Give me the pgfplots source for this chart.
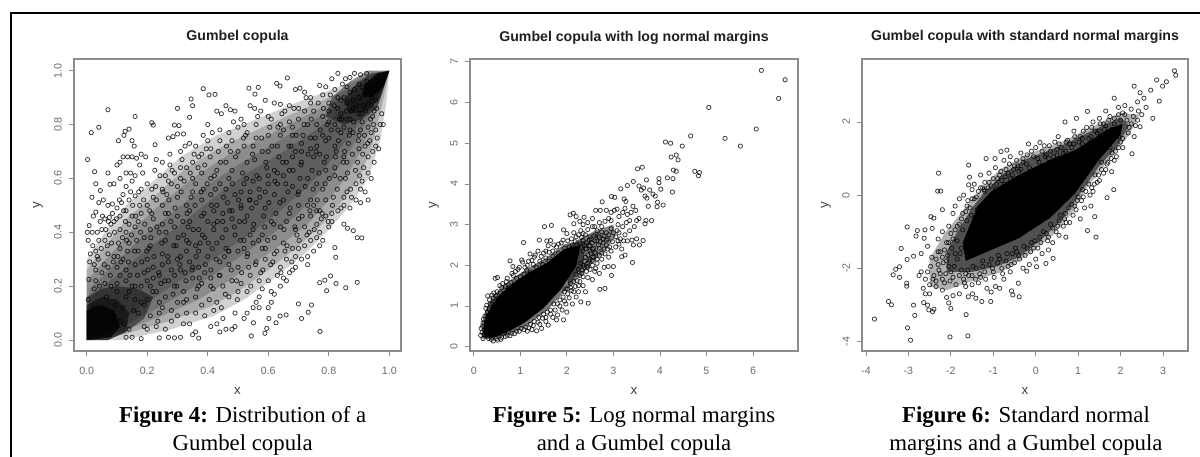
\documentclass[border=0pt]{standalone}
\usepackage{pgfplots}
\pgfplotsset{compat=1.18}
\usepackage{fontspec}
\setmainfont{Liberation Sans}
\newfontfamily\capfont{Liberation Serif}
\pgfplotsset{
 rp/.style={scale only axis,height=219pt,axis line style={color=black!45,line width=.9pt},
  tick style={color=black!45,line width=.6pt},tick align=outside,tick pos=left,major tick length=3.6pt,
  ticklabel style={font=\fontsize{8}{9}\selectfont,text=black!58},
  yticklabel style={rotate=90,anchor=south},
  xticklabel style={yshift=-14pt,anchor=base},
  yticklabel shift=2pt,
  title style={font=\bfseries\fontsize{10.6}{12}\selectfont,text=black!88,at={(axis description cs:.5,1)},anchor=base,yshift=7.5pt},
  xlabel style={font=\fontsize{10}{11}\selectfont,text=black!75,at={(axis description cs:.5,0)},anchor=base,yshift=-32.5pt},
  ylabel style={font=\fontsize{10}{11}\selectfont,text=black!75,at={(axis description cs:0,.5)},anchor=center,yshift=27pt},
  clip=true},
 pts/.style={only marks,mark=o,mark size=1.6pt,mark options={line width=.6pt,draw=black,draw opacity=.75}},
 blob/.style={draw=none,fill=black,fill opacity=#1,forget plot}
}
\begin{document}
\begin{tikzpicture}
\path[use as bounding box] (0,0) rectangle (900pt,342.75pt);
\draw[line width=1.8pt,black] (900pt,333pt)--(8.3pt,333pt)--(8.3pt,0pt);
%% Panel 1
\begin{axis}[rp,at={(55.5pt,79.5pt)},anchor=south west,width=245.25pt,
 xmin=-0.042,xmax=1.0387,ymin=-0.0408,ymax=1.0434,
 xtick={0,.2,.4,.6,.8,1},xticklabels={0.0,0.2,0.4,0.6,0.8,1.0},
 ytick={0,.2,.4,.6,.8,1},yticklabels={0.0,0.2,0.4,0.6,0.8,1.0},
 title={Gumbel copula},xlabel={x},ylabel={y}]
\addplot[blob=.18] coordinates {(0,0)(0,.3)(.06,.4)(.13,.5)(.21,.58)(.31,.68)(.43,.76)(.56,.82)(.69,.88)(.81,.93)(.93,.98)(1,1)(.99,.88)(.97,.74)(.93,.6)(.87,.5)(.8,.41)(.72,.32)(.62,.23)(.52,.15)(.42,.09)(.28,.04)(.12,0)} --cycle;
\addplot[blob=.18] coordinates {(0,0)(0,.26)(.07,.36)(.14,.46)(.23,.54)(.33,.64)(.45,.72)(.58,.79)(.7,.85)(.82,.91)(1,1)(.97,.84)(.94,.71)(.9,.6)(.84,.51)(.77,.42)(.69,.34)(.6,.26)(.5,.18)(.4,.12)(.27,.07)(.12,.02)} --cycle;
\addplot[blob=.18] coordinates {(0,0)(0,.22)(.08,.32)(.16,.42)(.25,.51)(.35,.6)(.47,.69)(.6,.76)(.72,.83)(.84,.9)(1,1)(.95,.83)(.91,.71)(.86,.61)(.8,.52)(.73,.43)(.65,.36)(.56,.29)(.47,.22)(.37,.15)(.25,.09)(.11,.03)} --cycle;
\addplot[blob=.18] coordinates {(0,0)(.01,.19)(.09,.28)(.18,.38)(.28,.47)(.38,.56)(.5,.65)(.62,.73)(.74,.81)(.86,.89)(1,1)(.93,.82)(.88,.72)(.82,.62)(.76,.54)(.69,.46)(.61,.39)(.52,.32)(.43,.25)(.33,.18)(.22,.11)(.1,.04)} --cycle;
\addplot[blob=.18] coordinates {(0,0)(.02,.17)(.1,.24)(.2,.34)(.3,.42)(.41,.52)(.53,.62)(.65,.7)(.77,.79)(.88,.88)(1,1)(.91,.82)(.85,.73)(.79,.64)(.72,.56)(.64,.48)(.56,.41)(.47,.34)(.38,.27)(.28,.2)(.19,.13)(.09,.05)} --cycle;
\addplot[blob=.45] coordinates {(0,0)(0,.16)(.05,.19)(.1,.2)(.17,.19)(.22,.16)(.19,.08)(.13,.03)(.07,0)} --cycle;
\addplot[blob=.5] coordinates {(0,0)(0,.13)(.05,.16)(.1,.15)(.14,.1)(.13,.03)(.07,0)} --cycle;
\addplot[blob=.8] coordinates {(0,0)(0,.11)(.04,.13)(.09,.11)(.11,.05)(.08,.01)} --cycle;
\addplot[blob=.45] coordinates {(1,1)(.93,1)(.87,.96)(.81,.9)(.79,.83)(.85,.8)(.91,.82)(.96,.86)} --cycle;
\addplot[blob=.5] coordinates {(1,1)(.94,.99)(.89,.95)(.85,.89)(.87,.84)(.93,.85)(.97,.9)} --cycle;
\addplot[blob=.85] coordinates {(1,1)(.96,.99)(.92,.95)(.91,.91)(.94,.9)(.98,.94)} --cycle;
\addplot[pts] coordinates {
(.015,.77)(.04,.79)(.07,.855)(.16,.83)(.003,.67)(.026,.625)(.07,.62)(.03,.58)(.017,.53)(.045,.555)(.03,.475)(.04,.51)(.055,.52)(.077,.578)(.008,.425)(.002,.40)(.005,.37)(.105,.74)(.127,.775)(.14,.783)(.123,.76)(.15,.74)(.157,.72)(.215,.807)(.22,.798)(.226,.725)(.30,.86)(.345,.895)(.35,.87)(.385,.933)(.404,.91)(.424,.912)(.536,.935)(.567,.938)(.556,.913)(.628,.953)(.639,.943)(.663,.973)(.34,.827)(.29,.798)(.305,.796)
(.771,.032)(.894,.214)(.856,.194)(.793,.183)(.824,.21)(.806,.238)(.77,.213)(.787,.222)(.743,.13)(.732,.103)(.71,.08)(.70,.134)(.659,.093)(.639,.089)(.626,.064)(.602,.08)(.595,.043)(.589,.025)(.544,.015)(.551,.064)(.909,.379)(.894,.38)(.881,.406)(.862,.415)(.823,.307)(.82,.343)
(.11,.66)(.1,.65)(.12,.68)(.135,.68)(.15,.68)(.165,.675)(.18,.69)(.195,.68)(.13,.62)(.145,.62)(.16,.61)(.175,.65)(.09,.58)(.11,.6)(.13,.57)(.145,.55)(.16,.535)(.07,.5)(.085,.505)(.1,.49)(.115,.51)(.13,.48)(.15,.46)(.06,.45)(.075,.455)(.09,.44)(.035,.4)(.05,.41)(.06,.37)(.02,.35)(.03,.33)(.01,.29)(.025,.28)(.007,.225)(.005,.15)
(.2,.58)(.215,.56)(.23,.67)(.25,.66)(.26,.61)(.275,.65)(.29,.62)(.31,.7)(.325,.72)(.27,.75)(.285,.755)(.3,.765)(.32,.765)(.34,.73)(.36,.72)(.37,.68)(.385,.76)(.4,.8)(.415,.77)(.43,.85)(.445,.84)(.46,.87)(.475,.855)(.49,.85)(.51,.82)(.52,.8)(.54,.87)(.555,.86)(.575,.85)(.59,.89)(.61,.82)(.62,.88)(.64,.875)(.655,.85)(.67,.87)(.69,.93)(.705,.935)(.72,.92)(.74,.9)(.77,.945)(.79,.94)(.81,.97)(.83,.99)(.855,.97)(.87,.975)(.885,.99)(.905,.985)(.925,.99)
(.36,.58)(.38,.62)(.41,.6)(.44,.58)(.46,.66)(.48,.63)(.5,.7)(.53,.66)(.55,.72)(.58,.7)(.6,.76)(.63,.72)(.65,.78)(.68,.76)(.7,.82)(.73,.8)(.75,.85)(.78,.83)(.8,.88)(.83,.86)(.85,.9)
(.22,.45)(.25,.5)(.27,.47)(.3,.53)(.33,.5)(.35,.55)(.38,.52)(.41,.54)(.43,.5)(.46,.56)(.49,.54)(.52,.58)(.54,.55)(.57,.6)(.6,.58)(.62,.63)(.65,.61)(.68,.68)(.71,.66)(.74,.71)(.77,.69)(.8,.75)(.82,.72)(.85,.79)(.88,.77)
(.12,.3)(.14,.36)(.17,.33)(.19,.38)(.21,.35)(.24,.4)(.26,.37)(.29,.42)(.32,.39)(.34,.44)(.37,.41)(.4,.44)(.42,.41)(.45,.47)(.48,.45)(.51,.49)(.53,.46)(.56,.51)(.59,.49)(.62,.54)(.65,.52)(.68,.57)(.7,.55)(.73,.6)(.76,.58)(.79,.63)(.82,.61)(.85,.68)
(.1,.18)(.13,.22)(.16,.2)(.19,.25)(.22,.23)(.25,.28)(.28,.26)(.31,.31)(.34,.29)(.37,.33)(.4,.31)(.43,.36)(.46,.34)(.49,.39)(.52,.37)(.55,.41)(.58,.39)(.61,.44)(.64,.42)(.67,.47)(.7,.45)(.73,.5)(.76,.48)(.79,.52)
(.2,.15)(.23,.18)(.26,.16)(.29,.2)(.32,.18)(.35,.23)(.38,.21)(.41,.26)(.44,.24)(.47,.28)(.5,.27)(.53,.31)(.56,.29)(.59,.34)(.62,.32)(.65,.36)(.68,.34)
(.92,.72)(.915,.64)(.93,.68)(.945,.7)(.95,.66)(.955,.72)(.96,.75)(.965,.71)(.97,.8)(.98,.8)(.975,.84)(.955,.78)(.94,.6)(.91,.59)(.905,.56)(.92,.55)(.93,.52)(.905,.51)(.89,.52)(.875,.53)(.86,.55)(.85,.5)(.84,.49)(.83,.48)(.87,.49)(.85,.43)(.81,.47)(.8,.42)(.79,.46)(.77,.48)(.75,.5)(.76,.43)(.78,.37)(.76,.38)(.75,.33)(.74,.37)(.72,.35)(.71,.3)(.73,.31)(.7,.34)(.69,.27)(.68,.26)(.67,.25)(.66,.22)(.64,.2)(.63,.24)(.62,.17)(.61,.14)(.6,.22)(.6,.12)(.58,.19)(.57,.16)(.56,.14)(.55,.12)(.53,.1)(.52,.08)(.5,.18)(.49,.05)(.48,.04)(.46,.04)(.45,.08)(.44,.03)(.43,.06)(.41,.05)(.42,.11)(.39,.09)(.37,.007)(.36,.03)(.35,.02)(.34,.06)(.31,.01)(.29,.008)(.27,.01)(.24,.008)(.26,.04)(.23,.05)(.18,.005)(.2,.04)(.15,.01)(.13,.01)
(.59,.3)(.66,.3)(.69,.41)(.72,.42)(.74,.46)(.77,.4)(.64,.27)(.57,.22)(.51,.21)(.47,.16)(.43,.14)(.38,.13)(.33,.1)(.28,.07)(.24,.1)(.3,.14)(.36,.16)(.41,.2)(.48,.22)(.54,.24)
(.03,.22)(.05,.25)(.07,.27)(.09,.31)(.11,.34)(.13,.4)(.16,.42)(.18,.47)(.2,.5)(.23,.52)(.25,.56)(.28,.58)(.31,.6)(.33,.64)(.35,.66)(.38,.69)(.41,.71)(.44,.74)(.47,.77)(.5,.79)(.53,.77)(.56,.8)(.6,.83)(.64,.8)(.67,.81)(.7,.86)(.74,.88)(.78,.91)(.82,.93)(.86,.94)(.9,.95)(.93,.94)(.96,.96)(.94,.87)(.9,.84)(.87,.82)(.84,.77)(.9,.76)(.93,.79)
(.02,.12)(.025,.19)(.03,.26)(.035,.31)(.04,.37)(.045,.44)(.06,.05)(.065,.16)(.06,.21)(.07,.32)(.075,.39)(.08,.43)(.085,.47)(.09,.09)(.095,.13)(.1,.21)(.1,.27)(.105,.36)(.11,.41)(.11,.46)(.12,.54)(.125,.06)(.13,.16)(.13,.26)(.135,.33)(.14,.43)(.14,.52)(.15,.59)(.155,.11)(.16,.15)(.16,.28)(.165,.37)(.17,.44)(.175,.5)(.18,.56)(.185,.62)
(.19,.05)(.19,.13)(.2,.22)(.2,.3)(.205,.34)(.21,.41)(.215,.47)(.22,.53)(.225,.63)(.235,.07)(.24,.14)(.245,.21)(.25,.32)(.25,.43)(.26,.47)(.265,.54)(.27,.59)(.275,.69)(.28,.11)(.285,.17)(.29,.24)(.295,.35)(.3,.46)(.3,.57)(.31,.64)(.315,.67)(.32,.06)(.32,.14)(.325,.25)(.33,.33)(.335,.42)(.34,.48)(.345,.53)(.35,.6)(.355,.69)
(.36,.1)(.365,.19)(.37,.27)(.375,.36)(.38,.46)(.385,.56)(.39,.65)(.395,.71)(.4,.74)(.405,.15)(.41,.23)(.415,.34)(.42,.48)(.425,.56)(.43,.63)(.435,.7)(.44,.78)(.445,.12)(.45,.2)(.455,.31)(.46,.41)(.465,.51)(.47,.6)(.475,.7)(.48,.74)(.485,.81)(.49,.1)(.495,.22)(.5,.33)(.505,.44)(.51,.55)(.515,.62)(.52,.72)(.525,.76)
(.53,.18)(.535,.27)(.54,.39)(.545,.49)(.55,.59)(.555,.67)(.56,.75)(.565,.83)(.57,.12)(.575,.25)(.58,.34)(.585,.46)(.59,.55)(.595,.64)(.6,.7)(.605,.79)(.61,.18)(.615,.29)(.62,.38)(.625,.47)(.63,.58)(.635,.68)(.64,.76)(.645,.84)(.65,.23)(.655,.33)(.66,.44)(.665,.55)(.67,.63)(.675,.72)(.68,.79)(.685,.86)
(.69,.31)(.695,.39)(.7,.5)(.705,.6)(.71,.7)(.715,.76)(.72,.85)(.725,.9)(.73,.28)(.735,.4)(.74,.52)(.745,.63)(.75,.68)(.755,.75)(.76,.8)(.765,.88)(.77,.35)(.775,.45)(.78,.56)(.785,.66)(.79,.74)(.795,.8)(.8,.85)(.805,.91)(.81,.44)(.815,.53)(.82,.64)(.825,.7)(.83,.78)(.835,.82)(.84,.89)(.845,.95)
(.85,.53)(.855,.6)(.86,.66)(.865,.73)(.87,.78)(.875,.85)(.88,.89)(.885,.93)(.89,.58)(.895,.66)(.9,.71)(.905,.78)(.91,.81)(.915,.87)(.92,.91)(.925,.96)(.93,.62)(.935,.74)(.94,.77)(.945,.83)(.95,.85)(.955,.89)(.96,.92)(.965,.95)
(.08,.03)(.11,.07)(.14,.04)(.17,.1)(.21,.09)(.25,.12)(.3,.09)(.33,.15)(.37,.2)(.04,.07)(.06,.12)(.08,.2)(.11,.24)(.14,.18)(.18,.2)(.22,.27)(.27,.22)(.31,.26)(.35,.27)(.39,.25)(.44,.29)(.47,.33)(.52,.34)(.55,.36)
(.012,.32)(.018,.4)(.022,.46)(.038,.3)(.042,.2)(.048,.34)(.052,.46)(.058,.28)(.063,.41)(.068,.35)(.072,.44)(.078,.24)(.082,.36)(.088,.29)(.092,.4)(.098,.45)(.103,.31)(.108,.52)(.113,.29)(.118,.38)(.122,.48)(.128,.44)(.132,.37)(.138,.29)(.143,.24)(.148,.39)(.152,.5)(.158,.33)(.162,.46)(.168,.24)(.172,.55)(.178,.4)(.182,.29)(.188,.52)(.192,.43)(.198,.33)
(.203,.26)(.208,.48)(.212,.38)(.218,.18)(.222,.31)(.228,.57)(.232,.42)(.238,.25)(.242,.61)(.248,.36)(.252,.55)(.258,.22)(.262,.4)(.268,.31)(.272,.52)(.278,.44)(.282,.63)(.288,.35)(.292,.49)(.298,.2)(.302,.38)(.308,.28)(.312,.55)(.318,.44)(.322,.59)(.328,.22)(.332,.47)(.338,.36)(.342,.62)(.348,.26)(.352,.41)(.358,.5)(.362,.31)(.368,.64)(.372,.23)(.378,.55)(.382,.39)(.388,.47)(.392,.28)(.398,.58)
(.402,.36)(.408,.68)(.412,.5)(.418,.19)(.422,.61)(.428,.3)(.432,.44)(.438,.24)(.442,.66)(.448,.38)(.452,.53)(.458,.17)(.462,.72)(.468,.33)(.472,.48)(.478,.26)(.482,.58)(.488,.42)(.492,.68)(.498,.15)(.502,.52)(.508,.37)(.512,.25)(.518,.75)(.522,.44)(.528,.6)(.532,.32)(.538,.52)(.542,.2)(.548,.69)(.552,.43)(.558,.28)(.562,.61)(.568,.37)(.572,.53)(.578,.75)(.582,.26)(.588,.42)(.592,.66)(.598,.37)
(.602,.51)(.608,.28)(.612,.72)(.618,.43)(.622,.59)(.628,.33)(.632,.79)(.638,.51)(.642,.25)(.648,.66)(.652,.41)(.658,.58)(.662,.35)(.668,.72)(.672,.49)(.678,.29)(.682,.63)(.688,.42)(.692,.76)(.698,.54)(.702,.37)(.708,.65)(.712,.46)(.718,.8)(.722,.57)(.728,.39)(.732,.69)(.738,.48)(.742,.82)(.748,.56)(.752,.41)(.758,.7)(.762,.52)(.768,.62)(.772,.78)(.778,.47)(.782,.86)(.788,.58)(.792,.68)(.798,.44)
(.802,.6)(.808,.78)(.812,.5)(.818,.87)(.822,.68)(.828,.56)(.832,.74)(.838,.6)(.842,.82)(.848,.66)(.852,.7)(.858,.85)(.862,.62)(.868,.76)(.872,.56)(.878,.69)(.882,.81)(.888,.63)(.892,.87)(.898,.74)(.902,.61)(.908,.84)(.912,.69)(.918,.76)(.922,.85)(.928,.73)(.932,.88)(.938,.82)(.942,.9)(.948,.8)(.952,.93)(.958,.86)
(.82,.8)(.84,.84)(.86,.88)(.88,.86)(.9,.9)(.86,.82)(.83,.9)(.87,.92)(.91,.94)(.8,.81)(.78,.76)(.76,.72)(.74,.75)(.71,.73)(.69,.7)(.66,.66)(.63,.62)(.6,.61)(.57,.56)(.54,.52)(.51,.5)(.48,.48)(.45,.44)(.42,.43)(.39,.38)(.36,.35)(.33,.37)(.3,.3)(.27,.29)(.24,.24)(.21,.2)(.18,.14)(.15,.2)(.12,.12)
};
\end{axis}
%% Panel 2
\begin{axis}[rp,at={(352.5pt,79.5pt)},anchor=south west,width=246pt,
 xmin=-0.08,xmax=6.967,ymin=-0.106,ymax=7.07,
 xtick={0,1,2,3,4,5,6},ytick={0,1,2,3,4,5,6,7},
 xticklabels={0,1,2,3,4,5,6},yticklabels={0,1,2,3,4,5,6,7},
 title={Gumbel copula with log normal margins},xlabel={x},ylabel={y}]
\addplot[blob=.45] coordinates {(1.9,2.3)(2.2,2.6)(2.6,2.85)(3,3)(3.05,2.7)(2.8,2.35)(2.55,2.05)(2.3,1.75)(2.05,1.45)} --cycle;
\addplot[blob=.55] coordinates {(.18,.2)(.17,.55)(.24,.85)(.34,1.1)(.46,1.3)(.72,1.58)(1.12,1.9)(1.58,2.2)(1.95,2.52)(2.4,2.6)(2.35,2)(2,1.42)(1.6,.92)(1.15,.52)(.72,.28)(.42,.18)} --cycle;
\addplot[blob=1] coordinates {(.22,.22)(.22,.55)(.28,.78)(.38,1)(.5,1.2)(.75,1.48)(1.15,1.8)(1.6,2.08)(1.95,2.4)(2.3,2.5)(2.2,1.98)(1.88,1.42)(1.5,.95)(1.08,.58)(.68,.33)(.42,.22)} --cycle;
\addplot[pts] coordinates {
(6.18,6.79)(6.69,6.56)(6.55,6.1)(5.05,5.88)(6.07,5.35)(5.4,5.12)(5.73,4.93)(4.66,5.18)(4.48,4.93)(4.12,5.03)(4.23,5.0)(4.24,4.66)(4.35,4.71)(4.39,4.59)(4.29,4.34)(4.35,4.31)(4.75,4.31)(4.85,4.28)(4.83,4.2)(4.16,4.15)(4.28,4.13)(4.27,3.8)(3.98,4.13)(3.98,4.03)(4.02,3.87)(4.07,3.48)(3.94,3.44)(3.52,4.37)(3.62,4.41)(3.71,4.1)(3.43,4.06)(3.3,3.96)(3.16,3.88)(2.96,3.69)(3.03,3.67)(2.76,3.56)(3.23,3.63)(3.27,3.57)
(2.14,3.28)(2.07,3.24)(2.2,3.2)(2.37,3.18)(1.52,2.95)(1.67,2.98)(1.93,2.87)(1.07,2.56)(1.41,2.62)(1.57,2.6)(1.65,2.61)(1.21,2.28)(.78,2.11)(1.03,2.13)(.84,1.97)(.46,1.68)(.51,1.7)(.3,1.25)(.39,1.27)(.26,.94)
(3.41,2.07)(3.0,1.97)(2.96,1.75)(2.89,1.97)(2.8,1.95)(2.46,1.07)(2.3,1.1)(2.71,1.41)(2.82,1.43)(3.64,2.61)(3.56,2.5)(3.43,2.5)(3.25,2.25)(3.18,2.21)(1.93,.66)(1.78,.66)(1.6,.53)(1.35,.39)(1.46,.45)(.51,.16)
(3.55,3.95)(3.6,3.85)(3.65,3.9)(3.72,3.65)(3.68,3.7)(3.75,3.45)(3.85,3.75)(3.9,3.7)(3.95,3.55)(3.78,3.85)(3.82,3.1)(3.7,3.1)(3.68,3.02)(3.55,3.15)(3.5,3.1)(3.48,3.35)(3.42,3.45)(3.38,3.3)(3.3,3.25)(3.25,3.4)(3.2,3.3)(3.12,3.2)(3.08,3.38)(3.02,3.35)(2.95,3.3)(2.9,3.15)(2.85,3.35)(2.72,3.35)(2.62,3.35)(2.55,3.15)(2.45,3.05)(2.35,3.0)(2.28,3.08)(2.15,3.02)
(3.5,2.65)(3.4,2.62)(3.3,2.6)(3.45,2.95)(3.35,2.85)(3.25,2.75)(3.15,2.65)(3.05,2.7)(3.2,2.95)(3.1,3.0)(2.95,2.9)(2.85,2.8)(2.75,2.95)(2.65,2.85)(2.55,2.95)(3.18,2.4)(3.05,2.45)(2.95,2.35)(3.1,2.6)(2.85,2.5)(2.75,2.3)(2.9,2.2)(2.75,2.15)(2.65,2.05)(2.6,1.85)(2.7,1.8)(2.55,1.65)(2.45,1.7)(2.5,1.9)(2.35,1.5)(2.4,1.35)(2.25,1.35)(2.2,1.22)(2.12,1.05)(2.05,1.2)(1.98,1.05)(2.0,.85)(1.9,.9)(1.8,.78)(1.7,.72)(1.55,.62)(1.42,.55)(1.25,.42)(1.15,.38)
(2.55,2.4)(2.45,2.25)(2.6,2.6)(2.5,2.7)(2.4,2.75)(2.3,2.85)(2.2,2.7)(2.1,2.65)(2.0,2.78)(1.88,2.55)(1.78,2.45)(1.7,2.35)(1.6,2.48)(1.5,2.3)(1.38,2.35)(1.3,2.2)(1.15,2.0)(1.05,2.08)(.95,1.9)(.85,1.75)(.7,1.6)(.6,1.45)(.5,1.35)(.42,1.2)(.35,1.05)(.3,.85)(.24,.75)(.2,.58)(.18,.35)
(.2,.2)(.22,.3)(.24,.42)(.27,.6)(.3,.75)(.33,.92)(.36,.82)(.4,1.05)(.45,1.1)(.48,1.25)(.52,1.18)(.58,1.32)(.63,1.28)(.68,1.48)(.74,1.45)(.8,1.58)(.87,1.52)(.92,1.68)(1.0,1.72)(1.08,1.78)(1.14,1.88)(1.22,1.82)(1.28,2.02)(1.35,1.95)(1.42,2.1)(1.48,2.02)(1.55,2.18)(1.62,2.1)(1.7,2.22)(1.76,2.15)(1.82,2.3)(1.9,2.28)(1.95,2.42)(2.05,2.45)(2.12,2.5)(2.18,2.58)(2.28,2.55)(2.35,2.62)(2.42,2.55)(2.48,2.48)(2.52,2.3)(2.58,2.2)(2.48,2.1)(2.38,2.1)(2.42,1.98)(2.32,1.88)(2.28,1.75)(2.2,1.78)(2.15,1.6)(2.08,1.55)(2.02,1.42)(1.95,1.35)(1.92,1.22)(1.85,1.15)(1.8,1.05)(1.72,1.05)(1.65,.9)(1.58,.85)(1.5,.8)(1.4,.72)(1.3,.62)(1.22,.55)(1.12,.48)(1.02,.45)(.92,.38)(.82,.33)(.72,.28)(.6,.23)(.48,.2)(.38,.18)
(2.62,2.75)(2.7,2.68)(2.68,2.5)(2.78,2.55)(2.8,2.72)(2.88,2.65)(2.92,2.45)(2.98,2.58)(3.0,2.8)(3.08,2.85)(2.8,2.4)(2.7,2.42)(2.62,2.3)(2.55,2.55)(2.48,2.62)(2.4,2.42)(2.32,2.68)(2.45,2.88)(2.35,2.78)(2.6,2.95)(2.7,3.05)(2.82,3.08)(2.95,3.1)(3.12,2.8)(3.22,2.6)(3.28,3.05)(3.35,3.1)(3.12,2.52)(2.65,2.15)(2.55,2.0)(2.62,1.92)(2.42,1.85)(2.35,1.72)(2.28,1.6)(2.18,1.48)(2.1,1.38)(2.25,1.5)(2.15,1.35)(2.55,2.2)
(.28,1.02)(.34,1.15)(.43,1.32)(.56,1.5)(.62,1.55)(.72,1.68)(.82,1.8)(.9,1.85)(.98,1.95)(1.1,1.95)(1.18,2.1)(1.25,2.12)(1.32,2.25)(1.45,2.22)(1.55,2.35)(1.62,2.32)(1.72,2.5)(1.82,2.52)(1.92,2.62)(2.02,2.6)(2.15,2.8)(2.25,2.75)
(.15,.28)(.16,.45)(.19,.5)(.21,.68)(.32,.2)(.42,.14)(.58,.18)(.68,.25)(.78,.27)(.88,.32)(.98,.38)(1.08,.42)(1.18,.46)(1.28,.52)(1.38,.6)(1.48,.7)(1.55,.72)(1.65,.8)(1.75,.9)(1.85,1.0)(1.95,1.12)(2.02,1.3)(1.98,1.42)(2.08,1.45)(2.22,1.62)(2.32,1.8)(2.38,1.95)(2.45,2.05)(2.5,2.15)(2.4,2.2)(2.3,2.05)(2.25,1.9)
(2.35,2.35)(2.42,2.4)(2.5,2.48)(2.58,2.42)(2.65,2.6)(2.72,2.58)(2.78,2.65)(2.85,2.62)(2.9,2.75)(2.38,2.48)(2.45,2.58)(2.52,2.65)(2.58,2.72)(2.68,2.72)(2.75,2.82)(2.5,2.35)(2.6,2.32)(2.7,2.25)(2.82,2.28)(2.88,2.4)(2.55,2.12)(2.45,1.95)(2.35,2.0)
};
\end{axis}
%% Panel 3
\begin{axis}[rp,at={(646.5pt,79.5pt)},anchor=south west,width=244.5pt,
 xmin=-4.094,xmax=3.589,ymin=-4.264,ymax=3.723,
 xtick={-4,-3,-2,-1,0,1,2,3},xticklabels={-4,-3,-2,-1,0,1,2,3},
 ytick={-4,-2,0,2},yticklabels={-4,-2,0,2},
 title={Gumbel copula with standard normal margins},xlabel={x},ylabel={y}]
\addplot[blob=.3] coordinates {(-2.5,-2.5)(-2.5,-1.75)(-2.15,-1.05)(-1.7,-.4)(-1.3,.15)(-.85,.7)(-.2,1.12)(.6,1.45)(1.3,1.85)(2,2.25)(2.45,2.2)(2.2,1.65)(1.75,1.0)(1.2,.2)(.85,-.5)(.4,-1.1)(-.2,-1.65)(-.8,-2.1)(-1.5,-2.35)(-2.1,-2.6)} --cycle;
\addplot[blob=.55] coordinates {(-2.1,-2.1)(-2.1,-1.55)(-1.85,-1.0)(-1.5,-.35)(-1.2,.1)(-.75,.6)(-.2,1)(.6,1.35)(1.3,1.75)(2,2.12)(2.2,1.9)(1.9,1.3)(1.5,.8)(1.05,.05)(.6,-.7)(.1,-1.25)(-.4,-1.7)(-.9,-1.95)(-1.5,-2.1)} --cycle;
\addplot[blob=1] coordinates {(-1.72,-1.3)(-1.37,-.3)(-1.05,.1)(-.45,.52)(.18,.88)(.96,1.25)(1.7,1.8)(2.05,1.95)(2,1.65)(1.5,.98)(.92,.04)(.34,-.62)(-.4,-1.18)(-1.05,-1.5)(-1.65,-1.8)} --cycle;
\addplot[pts] coordinates {
(-3.80,-3.39)(-3.47,-2.91)(-3.40,-3.0)(-3.02,-3.63)(-2.95,-3.97)(-2.85,-3.29)(-2.88,-3.01)(-2.02,-3.88)(-1.6,-3.85)(-1.64,-3.27)(-2.64,-2.94)(-2.55,-3.01)(-2.52,-3.14)(-2.43,-3.19)(-2.4,-3.12)(-3.36,-2.18)(-3.3,-2.03)(-3.21,-1.96)(-3.21,-2.25)(-3.04,-2.41)(-3.04,-2.49)(-3.03,-1.76)(-2.88,-1.67)(-3.17,-1.46)(-3.03,-.87)(-2.79,-.97)(-2.82,-1.12)(-2.61,-.95)(-2.63,-1.18)(-2.44,-.91)(-2.47,-.59)(-2.4,-.63)(-2.29,.6)(-2.31,.11)(-2.24,.11)(-2.2,-.4)
(-1.58,.82)(-1.56,.49)(-1.58,.28)(-1.17,1.0)(-.96,1.0)(-.82,1.19)(-.68,1.23)(-.17,1.4)(.1,1.44)(.53,1.6)(.69,2.0)(.96,2.1)(1.22,2.29)(1.85,2.65)(2.32,2.98)(2.46,2.8)(2.71,2.87)(2.85,3.15)(2.99,2.98)(3.08,3.1)(3.27,3.4)(3.3,3.28)(2.91,2.57)(2.76,2.1)(2.46,1.87)(2.32,1.6)(2.27,1.13)
(1.84,.15)(1.68,-.07)(1.79,.64)(1.42,-1.15)(1.22,-.97)(1.39,-.59)(.71,-1.15)(.41,-1.73)(.24,-1.87)(.02,-1.96)(-.21,-2.08)(-.39,-2.78)(-.57,-2.62)(-.54,-2.73)(-.41,-2.41)(-1.06,-2.91)(-1.27,-2.91)(-1.41,-2.82)(-1.49,-2.7)(-1.59,-2.78)
(-2.7,-2.1)(-2.6,-2.3)(-2.5,-2.45)(-2.75,-2.2)(-2.65,-2.55)(-2.6,-2.7)(-2.5,-2.7)(-2.35,-2.5)(-2.2,-2.6)(-2.1,-2.8)(-2.05,-2.95)(-2.0,-3.1)(-1.95,-2.75)(-1.8,-2.7)(-1.65,-2.5)(-1.5,-2.45)(-1.35,-2.4)(-1.15,-2.55)(-1.05,-2.65)(-.95,-2.5)(-.85,-2.55)(-.75,-2.3)(-.6,-2.1)
(-2.7,-1.6)(-2.55,-1.4)(-2.45,-1.7)(-2.3,-1.2)(-2.2,-1.0)(-2.15,-1.5)(-2.05,-.85)(-1.95,-.5)(-1.9,-.3)(-1.8,-.1)(-1.7,.0)(-1.6,-.15)(-1.5,.15)(-1.45,.3)(-1.3,.55)(-1.2,.35)(-1.1,.6)(-.95,.75)(-.85,.55)(-.75,.95)(-.6,1.05)(-.45,.95)(-.35,1.15)(-.2,1.1)(.0,1.3)(.2,1.35)(.35,1.2)(.45,1.45)(.6,1.3)(.75,1.5)(.9,1.75)(1.05,1.6)(1.2,1.85)(1.35,2.0)(1.5,2.1)(1.65,2.3)(1.75,2.15)(1.95,2.4)(2.1,2.45)(2.25,2.35)(2.4,2.55)(2.55,2.65)(2.6,2.4)(2.5,2.2)(2.4,2.05)(2.25,1.95)(2.05,1.55)(1.95,1.3)(1.8,1.15)(1.7,.9)(1.55,.7)(1.5,.4)(1.35,.1)(1.3,-.3)(1.15,-.35)(1.05,-.65)(.95,-.4)(.8,-.75)(.65,-.85)(.55,-1.1)(.4,-1.3)(.3,-1.5)(.15,-1.6)(.0,-1.75)(-.15,-1.9)(-.3,-2.0)(-.5,-1.85)
(-2.4,-2.2)(-2.3,-1.9)(-2.2,-2.3)(-2.1,-1.8)(-2.0,-2.1)(-1.9,-1.6)(-1.8,-2.2)(-1.7,-2.3)(-1.6,-2.05)(-1.5,-2.2)(-1.4,-2.0)(-1.3,-2.25)(-1.2,-2.1)(-1.1,-1.9)(-1.0,-2.1)(-.9,-1.85)(-.8,-2.0)(-.7,-1.8)(-.55,-1.6)(-.4,-1.65)(-.2,-1.45)(-.1,-1.3)(.1,-1.15)(.25,-1.05)(.4,-.9)(.55,-.7)(.7,-.5)(.85,-.25)(1.0,-.05)(1.1,.15)(1.25,.3)(1.4,.55)(1.55,.9)(1.75,1.3)(1.95,1.6)(2.2,1.85)
(-2.1,-1.3)(-2.0,-1.05)(-1.85,-.85)(-1.75,-.65)(-1.65,-.45)(-1.5,-.1)(-1.35,.1)(-1.25,.2)(-1.1,.35)(-.9,.45)(-.7,.7)(-.5,.8)(-.3,.9)(-.05,1.05)(.25,1.1)(.5,1.25)(.8,1.4)(1.1,1.55)(1.4,1.75)(1.6,1.95)(1.85,2.1)(2.05,2.25)
(-2.55,-2.1)(-2.48,-1.95)(-2.42,-2.3)(-2.35,-1.75)(-2.28,-2.05)(-2.25,-1.55)(-2.18,-1.85)(-2.12,-2.15)(-2.08,-1.65)(-2.02,-2.35)(-1.98,-1.45)(-1.92,-1.95)(-1.88,-2.45)(-1.85,-1.25)(-1.78,-1.6)(-1.75,-2.05)(-1.72,-.95)(-1.68,-2.4)(-1.62,-.7)(-1.58,-2.2)(-1.55,-.35)(-1.48,-1.95)(-1.42,-2.3)(-1.4,-.05)(-1.32,-2.15)(-1.25,-1.8)(-1.22,.15)(-1.18,-2.3)(-1.12,.2)(-1.05,-1.75)(-1.0,.45)(-.98,-2.25)(-.92,.3)(-.88,-1.65)(-.82,.65)(-.78,-2.15)(-.72,.5)(-.68,-1.6)(-.62,.85)(-.58,-1.9)(-.52,.7)(-.48,-1.45)(-.42,.8)(-.38,-1.75)(-.3,1.0)(-.28,-1.4)(-.22,.85)(-.12,-1.55)(-.1,1.2)(-.02,-1.25)(.05,1.0)(.05,-1.45)(.15,1.2)(.18,-1.0)(.22,1.05)(.28,-1.25)(.32,1.35)(.35,-.8)(.42,1.05)(.48,-1.0)(.55,1.4)(.58,-.55)(.65,1.15)(.68,-.65)(.72,1.45)(.78,-.35)(.85,1.3)(.88,-.55)(.92,1.6)(.98,-.15)(1.02,1.45)(1.08,-.15)(1.12,1.75)(1.18,.1)(1.25,1.55)(1.28,.0)(1.32,1.85)(1.38,.3)(1.45,1.7)(1.48,.55)(1.52,1.95)(1.6,.6)(1.62,1.8)(1.68,.85)(1.72,2.05)(1.78,1.0)(1.85,1.95)(1.88,1.2)(1.95,2.2)(2.0,1.45)(2.1,2.2)(2.18,1.7)(2.3,2.15)(2.35,1.9)(2.42,2.3)
(-2.35,-2.35)(-2.25,-2.15)(-2.15,-2.4)(-2.05,-1.95)(-1.95,-2.25)(-1.85,-1.75)(-1.75,-1.45)(-1.65,-2.15)(-1.55,-1.1)(-1.45,-1.6)(-1.35,-.75)(-1.25,-1.95)(-1.15,-.4)(-1.02,-2.0)(-.95,-.05)(-.85,-1.75)(-.75,.3)(-.65,-1.95)(-.6,.45)(-.45,-1.55)(-.35,.7)(-.25,-1.65)(-.15,.75)(-.05,-1.45)(.08,.9)(.12,-1.3)(.3,1.0)(.3,-1.15)(.5,1.1)(.52,-.85)(.7,1.2)(.72,-.75)(.9,1.4)(.92,-.3)(1.1,1.4)(1.12,-.05)(1.3,1.6)(1.32,.2)(1.5,1.75)(1.45,.35)(1.65,1.9)(1.65,.7)(1.8,1.8)(1.85,.95)(2.0,2.05)(1.9,1.05)(2.15,2.05)(2.05,1.3)
(-2.3,-1.55)(-2.2,-1.7)(-2.05,-1.3)(-1.95,-1.2)(-1.9,-.95)(-1.8,-.8)(-1.72,-.5)(-1.62,-.3)(-1.52,-.55)(-1.45,-.1)(-1.38,-.4)(-1.3,.2)(-1.2,.1)(-1.05,.25)(-.95,.15)(-.8,.4)(-.65,.6)(-.55,.55)(-.4,.65)
};
\end{axis}
\node[font=\capfont\fontsize{17.1}{19}\selectfont,anchor=base] at (182pt,25.5pt) {\textbf{Figure 4:} Distribution of a};
\node[font=\capfont\fontsize{17.1}{19}\selectfont,anchor=base] at (182pt,5pt) {Gumbel copula};
\node[font=\capfont\fontsize{17.1}{19}\selectfont,anchor=base] at (475.5pt,25.5pt) {\textbf{Figure 5:} Log normal margins};
\node[font=\capfont\fontsize{17.1}{19}\selectfont,anchor=base] at (475.5pt,5pt) {and a Gumbel copula};
\node[font=\capfont\fontsize{17.1}{19}\selectfont,anchor=base] at (769.5pt,25.5pt) {\textbf{Figure 6:} Standard normal};
\node[font=\capfont\fontsize{17.1}{19}\selectfont,anchor=base] at (769.5pt,5pt) {margins and a Gumbel copula};
\end{tikzpicture}
\end{document}
